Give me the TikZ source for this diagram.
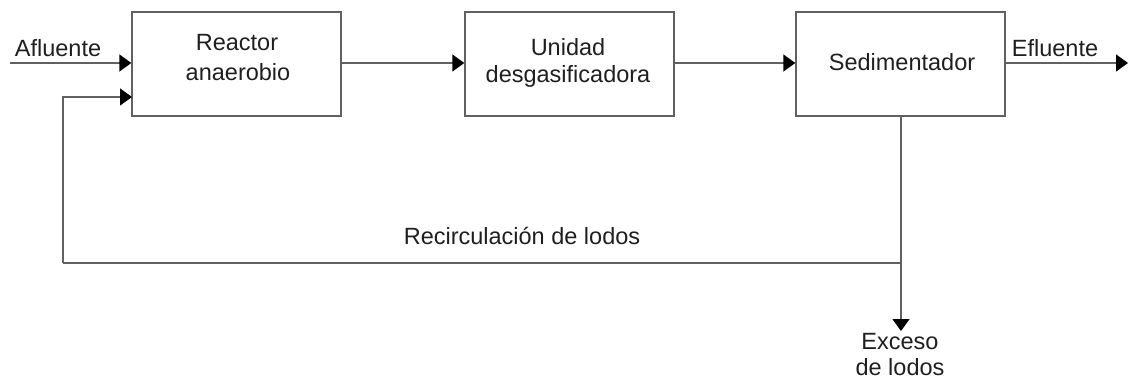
\documentclass[tikz,border=0pt]{standalone}
\usepackage{fontspec}
\setmainfont{Liberation Sans}
\usetikzlibrary{arrows.meta}
\begin{document}
\begin{tikzpicture}[x=1pt,y=-1pt,
  line/.style={draw=black!62, line width=1.4pt},
  arr/.style={line, -{Triangle[length=12pt,width=17pt,fill=black,color=black]}},
  box/.style={draw=black!62, line width=1.4pt, minimum width=209pt, minimum height=104pt, inner sep=0pt},
  lbl/.style={font=\fontsize{23.5}{28}\selectfont, text=black!88, inner sep=0pt, align=center}]
\useasboundingbox (0,0) rectangle (1129,379);
\node[box] (rea) at (236.5,64) {};
\node[box] (uni) at (569.5,64) {};
\node[box] (sed) at (900.5,64) {};
\node[lbl] (t1) at (237,43) {Reactor};
\node[lbl] (t2) at (238,72) {anaerobio};
\node[lbl] (t3) at (568,47) {Unidad};
\node[lbl] (t4) at (568,76) {desgasificadora};
\node[lbl] (t5) at (902,62) {Sedimentador};
\node[lbl] (af) at (58,48) {Afluente};
\node[lbl] (ef) at (1055,48) {Efluente};
\node[lbl] (rc) at (522,236) {Recirculación de lodos};
\node[lbl] (ex1) at (900,342) {Exceso};
\node[lbl] (ex2) at (900,367) {de lodos};
\coordinate (in) at (10,63);
\coordinate (out) at (1128,63);
\coordinate (jn) at (901,263);
\coordinate (lc) at (63,263);
\coordinate (rin) at (132,97);
\coordinate (exc) at (901,331);
\draw[arr] (in) -- (in -| rea.west);
\draw[arr] (rea.east |- in) -- (uni.west |- in);
\draw[arr] (uni.east |- in) -- (sed.west |- in);
\draw[arr] (sed.east |- out) -- (out);
\draw[line] (sed.south -| jn) -- (jn) -- (lc);
\draw[arr] (lc) |- (rin);
\draw[arr] (jn) -- (exc);
\end{tikzpicture}
\end{document}
